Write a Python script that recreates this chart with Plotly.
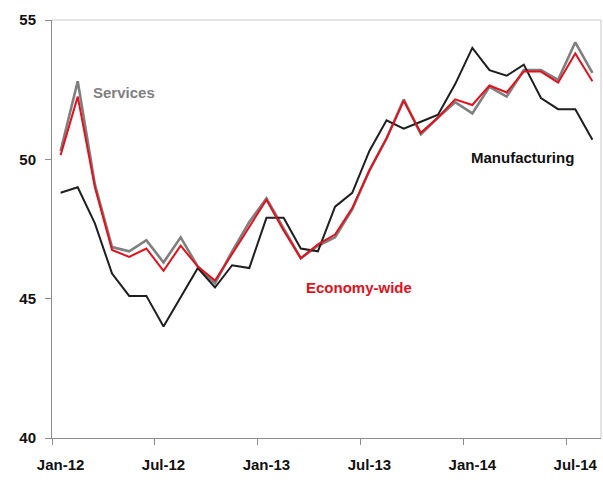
import plotly.graph_objects as go

# Monthly PMI readings, Jan-2012 .. Aug-2014
months = [
    "Jan-12", "Feb-12", "Mar-12", "Apr-12", "May-12", "Jun-12", "Jul-12", "Aug-12",
    "Sep-12", "Oct-12", "Nov-12", "Dec-12", "Jan-13", "Feb-13", "Mar-13", "Apr-13",
    "May-13", "Jun-13", "Jul-13", "Aug-13", "Sep-13", "Oct-13", "Nov-13", "Dec-13",
    "Jan-14", "Feb-14", "Mar-14", "Apr-14", "May-14", "Jun-14", "Jul-14", "Aug-14",
]
services = [
    50.3, 52.8, 49.1, 46.85, 46.7, 47.1, 46.3, 47.2,
    46.15, 45.55, 46.7, 47.75, 48.6, 47.5, 46.45, 46.9,
    47.2, 48.2, 49.6, 50.75, 52.15, 50.9, 51.5, 52.05,
    51.65, 52.6, 52.25, 53.2, 53.2, 52.85, 54.2, 53.1,
]
manufacturing = [
    48.8, 49.0, 47.7, 45.9, 45.1, 45.1, 44.0, 45.05,
    46.1, 45.4, 46.2, 46.1, 47.9, 47.9, 46.8, 46.7,
    48.3, 48.8, 50.3, 51.4, 51.1, 51.35, 51.6, 52.7,
    54.0, 53.2, 53.0, 53.4, 52.2, 51.8, 51.8, 50.7,
]
economy = [
    50.15, 52.25, 49.0, 46.75, 46.5, 46.8, 46.0, 46.9,
    46.15, 45.65, 46.6, 47.6, 48.55, 47.45, 46.45, 46.95,
    47.3, 48.25, 49.6, 50.75, 52.1, 50.95, 51.5, 52.15,
    51.95, 52.65, 52.4, 53.15, 53.15, 52.75, 53.8, 52.8,
]
y_ticks = [40, 45, 50, 55]
label_every = 6

idx = list(range(len(months)))
label_pos = idx[::label_every]
label_text = months[::label_every]
boundary_pos = [p - 0.5 for p in label_pos]

FONT = "Liberation Sans, Arial, sans-serif"

fig = go.Figure()
fig.add_trace(go.Scatter(x=idx, y=services, mode="lines", name="Services",
                         line=dict(color="#7f7f7f", width=2.6)))
fig.add_trace(go.Scatter(x=idx, y=manufacturing, mode="lines", name="Manufacturing",
                         line=dict(color="#1e1e1e", width=2)))
fig.add_trace(go.Scatter(x=idx, y=economy, mode="lines", name="Economy-wide",
                         line=dict(color="#e2111b", width=2)))
# invisible trace to carry the tick-mark axis
fig.add_trace(go.Scatter(x=[idx[0]], y=[economy[0]], xaxis="x2", mode="lines",
                         showlegend=False, hoverinfo="skip", line=dict(width=0)))

xrange = [-0.5, len(months) - 0.5]

fig.update_layout(
    width=603, height=480,
    margin=dict(l=52, r=2, t=20, b=42),
    paper_bgcolor="white", plot_bgcolor="white",
    showlegend=False,
    font=dict(family=FONT, color="#111111"),
    xaxis=dict(
        range=xrange, tickmode="array", tickvals=label_pos, ticktext=label_text,
        ticks="", showgrid=False, zeroline=False,
        showline=True, linecolor="#8c8c8c", linewidth=1,
        tickfont=dict(size=15, weight="bold", color="#111111"),
        ticklabelstandoff=13,
    ),
    xaxis2=dict(
        overlaying="x", anchor="y", side="bottom", range=xrange,
        tickmode="array", tickvals=boundary_pos, ticks="outside", ticklen=6,
        tickcolor="#8c8c8c", showticklabels=False, showgrid=False, zeroline=False,
        showline=False,
    ),
    yaxis=dict(
        range=[y_ticks[0], y_ticks[-1]], tickmode="array", tickvals=y_ticks,
        ticks="outside", ticklen=6, tickcolor="#8c8c8c",
        showgrid=False, zeroline=False,
        showline=True, linecolor="#8c8c8c", linewidth=1,
        tickfont=dict(size=15, weight="bold", color="#111111"),
        ticklabelstandoff=6,
    ),
    shapes=[
        dict(type="line", xref="paper", yref="paper", x0=0, x1=1, y0=1, y1=1,
             line=dict(color="#c8c8c8", width=1)),
        dict(type="line", xref="paper", yref="paper", x0=1, x1=1, y0=0, y1=1,
             line=dict(color="#c8c8c8", width=1)),
    ],
    annotations=[
        dict(x=3.7, y=52.4, text="Services", showarrow=False, xanchor="center",
             font=dict(size=15, weight="bold", color="#7f7f7f")),
        dict(x=26.9, y=50.05, text="Manufacturing", showarrow=False, xanchor="center",
             font=dict(size=15, weight="bold", color="#111111")),
        dict(x=17.4, y=45.4, text="Economy-wide", showarrow=False, xanchor="center",
             font=dict(size=15, weight="bold", color="#e2111b")),
    ],
)

fig.write_html("out.html")
